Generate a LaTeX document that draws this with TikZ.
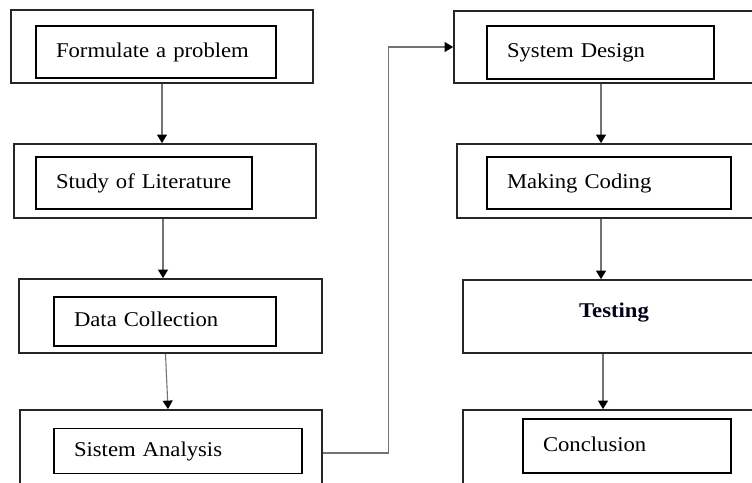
\documentclass[tikz,border=0pt]{standalone}
\usepackage{fontspec}
\setmainfont{Liberation Serif}[FakeStretch=1.08]
\usetikzlibrary{arrows.meta}

\tikzset{
  outerbox/.style={draw=black!85, line width=1.8pt, rectangle, inner sep=0pt},
  innerbox/.style={draw=black, line width=1.2pt, rectangle, inner xsep=20pt, inner ysep=0pt,
    align=left, text height=14pt, text depth=4pt,
    font=\fontsize{21}{24}\selectfont},
  flow/.style={draw=black!55, line width=1.1pt,
    -{Triangle[width=10pt,length=8.5pt,fill=black,color=black]}},
}

\begin{document}
\begin{tikzpicture}[x=1pt, y=-1pt]
  \useasboundingbox (0,0) rectangle (752,482);
  \clip (0,0) rectangle (752,482);

  % left column: outer frames
  \node[outerbox, minimum width=302pt, minimum height=73pt] (o1) at (162,46.5) {};
  \node[outerbox, minimum width=302pt, minimum height=74pt] (o2) at (165,181) {};
  \node[outerbox, minimum width=303pt, minimum height=74pt] (o3) at (170.5,316) {};
  \node[outerbox, minimum width=302pt, minimum height=82pt] (o4) at (171,451) {};

  % right column: outer frames
  \node[outerbox, minimum width=306pt, minimum height=72pt] (o5) at (607,47) {};
  \node[outerbox, minimum width=303pt, minimum height=74pt] (o6) at (608.5,181) {};
  \node[outerbox, minimum width=302pt, minimum height=73pt, text height=14pt, text depth=13pt,
        font=\fontsize{21}{24}\selectfont\bfseries, text=black!90!blue] (o7) at (614,316.5) {Testing};
  \node[outerbox, minimum width=302pt, minimum height=82pt] (o8) at (614,451) {};

  % labelled inner boxes
  \node[innerbox, text width=200pt, minimum height=52pt] (i1) at (156,52) {Formulate a problem};
  \node[innerbox, text width=176pt, minimum height=52pt] (i2) at (144,183) {Study of Literature};
  \node[innerbox, text width=182pt, minimum height=49pt] (i3) at (165,321.5) {Data Collection};
  \node[innerbox, text width=208pt, minimum height=45pt] (i4) at (178,451) {Sistem Analysis};
  \node[innerbox, text width=187pt, minimum height=53pt] (i5) at (600.5,52.5) {System Design};
  \node[innerbox, text width=204pt, minimum height=52pt] (i6) at (609,183) {Making Coding};
  \node[innerbox, text width=168pt, minimum height=54pt] (i8) at (627,446) {Conclusion};

  % connectors
  \draw[flow] (o1.south) -- (o1.south |- o2.north);
  \draw[flow] ([xshift=-2pt]o2.south) -- ([xshift=-2pt]o2.south |- o3.north);
  \draw[flow] ([xshift=-5pt]o3.south) -- ([xshift=-3pt]o4.north);
  \draw[flow] ([yshift=-2pt]o4.east) -- ++(66,0) |- (o5.west);
  \draw[flow] ([xshift=-6pt]o5.south) -- ([xshift=-6pt]o5.south |- o6.north);
  \draw[flow] ([xshift=-7.5pt]o6.south) -- ([xshift=-7.5pt]o6.south |- o7.north);
  \draw[flow] ([xshift=-11pt]o7.south) -- ([xshift=-11pt]o7.south |- o8.north);
\end{tikzpicture}
\end{document}
